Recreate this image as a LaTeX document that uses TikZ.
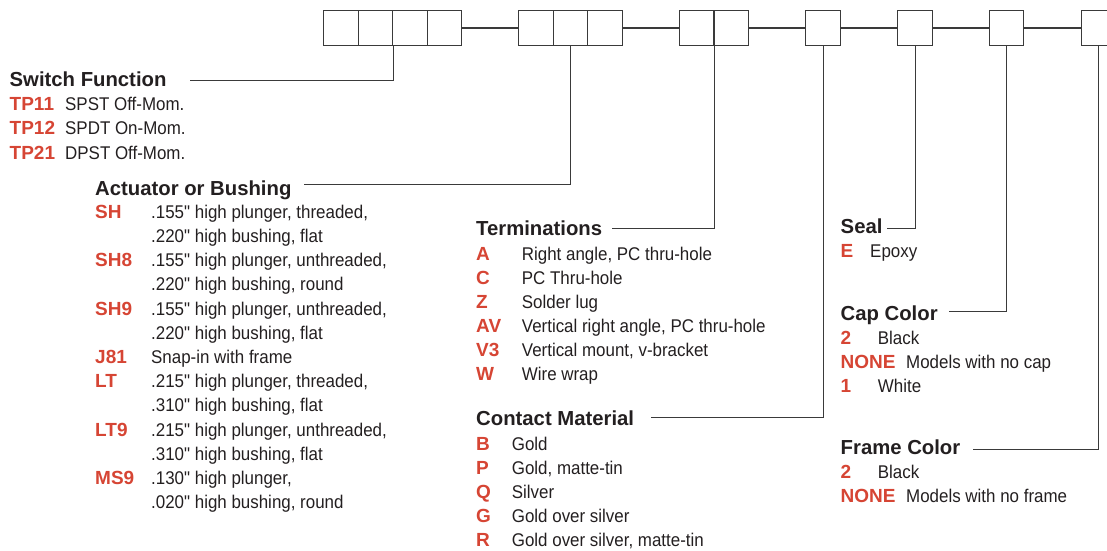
\documentclass[tikz,border=0pt]{standalone}
\usepackage{fontspec}
\setmainfont{Liberation Sans}
\newfontfamily\narrowfont[FakeStretch=0.92]{Liberation Sans}
\usetikzlibrary{positioning}
\definecolor{kred}{HTML}{D64534}
\definecolor{kdark}{HTML}{231F20}
\definecolor{kline}{HTML}{3A3A3A}
\tikzset{
  slot/.style={draw=kline, line width=1.1pt, minimum size=34.4pt, inner sep=0pt, anchor=west},
  leader/.style={kline, line width=1.1pt},
  heading/.style={anchor=base west, inner sep=0pt, text=kdark, font=\fontsize{20.3}{24}\selectfont\bfseries},
  code/.style={anchor=base west, inner sep=0pt, text=kred, font=\fontsize{19}{23}\selectfont\bfseries},
  desc/.style={anchor=base west, inner sep=0pt, text=kdark, font=\narrowfont\fontsize{18.4}{21}\selectfont},
}

\begin{document}
\begin{tikzpicture}[x=1pt, y=-1pt]
  \useasboundingbox (0,0) rectangle (1107,550);

  %% Part number slots
  \foreach \x [count=\i] in {323.3,357.7,392.1,426.5,518.3,552.7,587.1,679,713.4,805.3,897.3,988.7,1081}{
    \node[slot] (b\i) at (\x,28) {};
  }
  \foreach \a/\b in {4/5,7/8,9/10,10/11,11/12,12/13}{
    \draw[leader] (b\a.east) -- (b\b.west);
  }

  %% Switch Function
  \node[heading] (swf) at (9.5,86.7) {Switch Function};
  \coordinate (swf-end) at (190,80.7);
  \draw[leader] (b2.south east) |- (swf-end);
  \foreach \y/\c/\d [count=\i] in {110.3/TP11/{SPST Off-Mom.}, 134.8/TP12/{SPDT On-Mom.}, 159.3/TP21/{DPST Off-Mom.}}{
    \node[code] (swc\i) at (9.5,\y) {\c};
    \node[desc] (swd\i) at (65,\y) {\d};
  }

  %% Actuator or Bushing
  \node[heading] (act) at (95,195) {Actuator or Bushing};
  \coordinate (act-end) at (304,184.5);
  \draw[leader] (b6.south) |- (act-end);
  \foreach \y/\c [count=\i] in {218.3/SH, 266.7/SH8, 315.1/SH9, 363.5/J81, 387.7/LT, 436.1/LT9, 484.5/MS9}{
    \node[code] (actc\i) at (95,\y) {\c};
  }
  \foreach \y/\d [count=\i] in {218.3/{.155" high plunger, threaded,}, 242.5/{.220" high bushing, flat},
      266.7/{.155" high plunger, unthreaded,}, 290.9/{.220" high bushing, round},
      315.1/{.155" high plunger, unthreaded,}, 339.3/{.220" high bushing, flat},
      363.5/{Snap-in with frame},
      387.7/{.215" high plunger, threaded,}, 411.9/{.310" high bushing, flat},
      436.1/{.215" high plunger, unthreaded,}, 460.3/{.310" high bushing, flat},
      484.5/{.130" high plunger,}, 508.7/{.020" high bushing, round}}{
    \node[desc] (actd\i) at (151,\y) {\d};
  }

  %% Terminations
  \node[heading] (term) at (476,235) {Terminations};
  \coordinate (term-end) at (611.7,228.3);
  \draw[leader] (b8.south east) |- (term-end);
  \foreach \y/\c/\d [count=\i] in {260/A/{Right angle, PC thru-hole}, 284/C/{PC Thru-hole}, 308/Z/{Solder lug},
      332/AV/{Vertical right angle, PC thru-hole}, 356/V3/{Vertical mount, v-bracket}, 380/W/{Wire wrap}}{
    \node[code] (termc\i) at (476,\y) {\c};
    \node[desc] (termd\i) at (521.7,\y) {\d};
  }

  %% Contact Material
  \node[heading] (cont) at (476,425) {Contact Material};
  \coordinate (cont-end) at (651,417.3);
  \draw[leader] (b10.south) |- (cont-end);
  \foreach \y/\c/\d [count=\i] in {450/B/{Gold}, 474/P/{Gold, matte-tin}, 498/Q/{Silver},
      522/G/{Gold over silver}, 546/R/{Gold over silver, matte-tin}}{
    \node[code] (contc\i) at (476,\y) {\c};
    \node[desc] (contd\i) at (511.7,\y) {\d};
  }

  %% Seal
  \node[heading] (seal) at (840.5,233.3) {Seal};
  \coordinate (seal-end) at (887.3,228.3);
  \draw[leader] (b11.south) |- (seal-end);
  \node[code] (sealc1) at (840.5,257.3) {E};
  \node[desc] (seald1) at (870,257.3) {Epoxy};

  %% Cap Color
  \node[heading] (cap) at (840.5,320) {Cap Color};
  \coordinate (cap-end) at (949,311.7);
  \draw[leader] (b12.south) |- (cap-end);
  \foreach \y/\c/\x/\d [count=\i] in {344/2/877.7/{Black}, 368.3/NONE/906/{Models with no cap}, 392.5/1/877.7/{White}}{
    \node[code] (capc\i) at (840.5,\y) {\c};
    \node[desc] (capd\i) at (\x,\y) {\d};
  }

  %% Frame Color
  \node[heading] (frame) at (840.5,454.3) {Frame Color};
  \coordinate (frame-end) at (973.3,449.3);
  \draw[leader] (b13.south) |- (frame-end);
  \foreach \y/\c/\x/\d [count=\i] in {478.3/2/877.7/{Black}, 502/NONE/906/{Models with no frame}}{
    \node[code] (framec\i) at (840.5,\y) {\c};
    \node[desc] (framed\i) at (\x,\y) {\d};
  }

\end{tikzpicture}
\end{document}
